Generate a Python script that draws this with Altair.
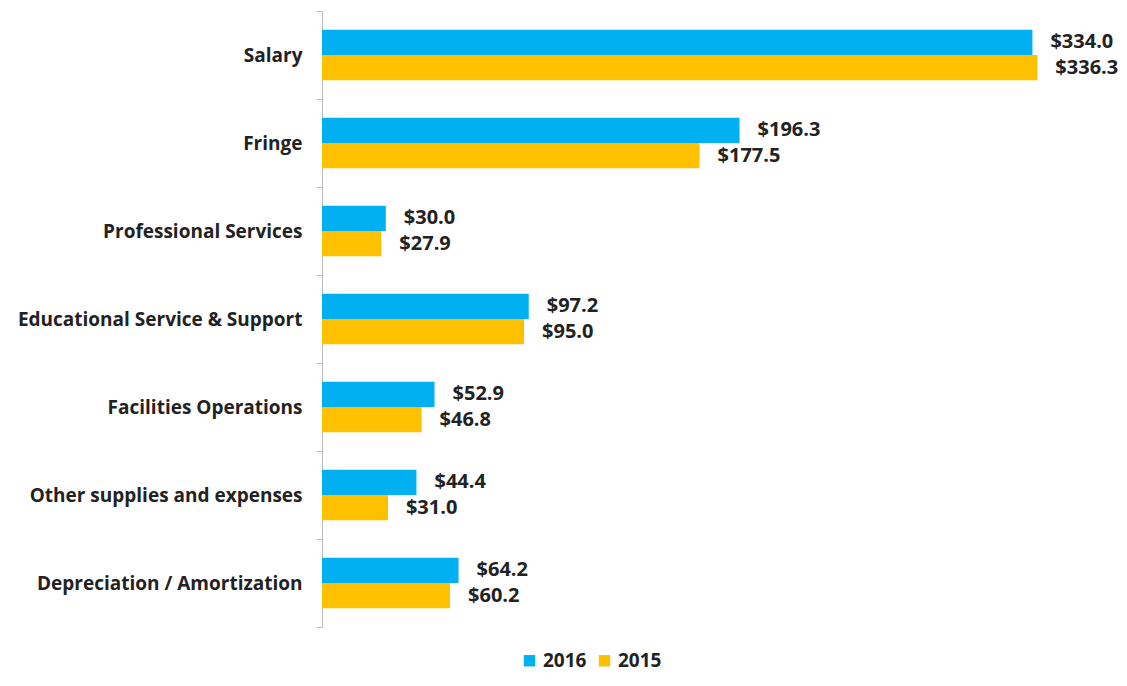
import altair as alt
import pandas as pd

categories = ["Salary", "Fringe", "Professional Services", "Educational Service & Support",
              "Facilities Operations", "Other supplies and expenses", "Depreciation / Amortization"]
values_2016 = [334.0, 196.3, 30.0, 97.2, 52.9, 44.4, 64.2]
values_2015 = [336.3, 177.5, 27.9, 95.0, 46.8, 31.0, 60.2]
series = ["2016", "2015"]
colors = ["#00B0F0", "#FFC000"]

rows = []
for c, a, b in zip(categories, values_2016, values_2015):
    rows.append({"category": c, "year": "2016", "value": a})
    rows.append({"category": c, "year": "2015", "value": b})
df = pd.DataFrame(rows)

FONT = "Open Sans"
TXT = "#222222"

y_enc = alt.Y("category:N", sort=categories, title=None,
              scale=alt.Scale(paddingInner=0, paddingOuter=0),
              axis=alt.Axis(labelFont=FONT, labelFontWeight="bold", labelFontSize=19,
                            labelColor=TXT, labelPadding=14, tickBand="extent",
                            tickSize=6, tickColor="#bfbfbf", domainColor="#bfbfbf",
                            labelLimit=400))
x_enc = alt.X("value:Q", scale=alt.Scale(domain=[0, 370], nice=False), axis=None)
yoff = alt.YOffset("year:N", sort=series,
                   scale=alt.Scale(paddingInner=0, paddingOuter=0.74))

base = alt.Chart(df).encode(y=y_enc, x=x_enc, yOffset=yoff)

bars = base.mark_bar().encode(
    color=alt.Color("year:N", sort=series,
                    scale=alt.Scale(domain=series, range=colors),
                    legend=alt.Legend(title=None, orient="none", legendX=198, legendY=640,
                                      direction="horizontal", symbolType="square",
                                      symbolSize=130, symbolStrokeWidth=0,
                                      labelFont=FONT, labelFontWeight="bold",
                                      labelFontSize=19, labelColor=TXT,
                                      columnPadding=8))
)

labels = base.mark_text(align="left", baseline="middle", dx=18, font=FONT,
                        fontWeight="bold", fontSize=20, color=TXT).encode(
    text=alt.Text("value:Q", format="$.1f")
)

chart = (bars + labels).properties(
    width=787, height=616,
    autosize=alt.AutoSizeParams(type="none"),
    padding={"left": 314, "top": 3, "right": 10, "bottom": 51},
).configure_view(stroke=None)

chart.save("out.html", embed_options={"renderer": "svg", "actions": False})
